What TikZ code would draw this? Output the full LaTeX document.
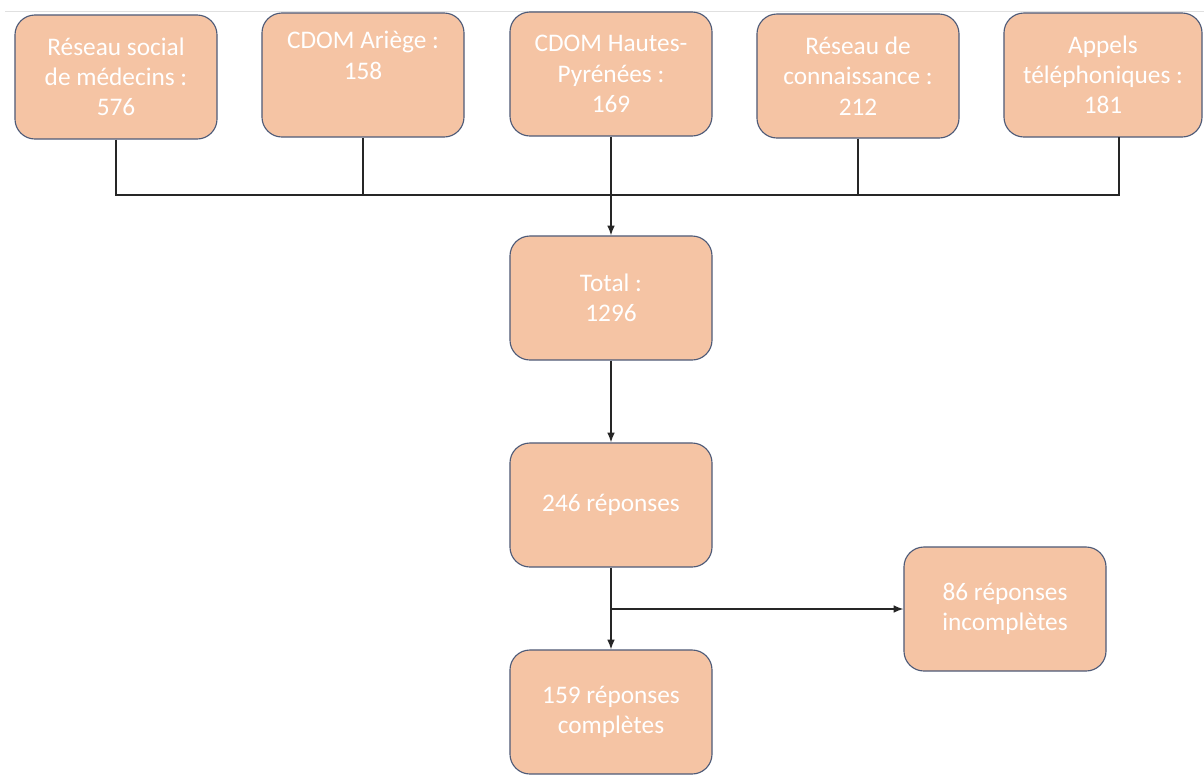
\documentclass[tikz,border=0pt]{standalone}
\usepackage{fontspec}
\setmainfont{Carlito}
\usepackage{tikz}
\usetikzlibrary{arrows,arrows.meta,positioning,calc}

\definecolor{peche}{HTML}{F5C4A4}
\definecolor{bord}{HTML}{4E5B78}

\begin{document}
\begin{tikzpicture}[x=0.025cm,y=-0.025cm,
  boite/.style={shape=rectangle,rounded corners=0.5cm,draw=bord,line width=0.8pt,fill=peche,
    text=white,align=center,minimum width=5.05cm,minimum height=3.1cm,
    font=\fontsize{18}{21.5}\selectfont},
  lien/.style={line width=1pt,black!85},
  fleche/.style={lien,-{Latex[length=7pt,width=5.5pt]}}]
\useasboundingbox (0,0) rectangle (1204,779);
\draw[black!12,line width=0.6pt] (5,11) -- (1204,11);

% sources
\node[boite] (S1) at (116,77) {Réseau social\\de médecins :\\576};
\node[boite] (S2) at (363,75) {CDOM Ariège :\\158\\[0pt]\strut};
\node[boite] (S3) at (611,74) {CDOM Hautes-\\Pyrénées :\\169};
\node[boite] (S4) at (858,76) {Réseau de\\connaissance :\\212};
\node[boite,minimum width=4.95cm] (S5) at (1103,75) {Appels\\téléphoniques :\\181};

% suite
\node[boite] (T) at (611,298) {Total :\\1296};
\node[boite] (R) at (611,505) {246 réponses};
\node[boite] (I) at (1005,609) {86 réponses\\incomplètes};
\node[boite] (C) at (611,712) {159 réponses\\complètes};

\coordinate (A5) at (1119,137);
\coordinate (G) at (S1.south |- 0,195);
\coordinate (D) at (A5 |- 0,195);
\coordinate (B) at (R.south |- I.west);

\draw[lien] (S1.south) -- (G) -- (D) -- (A5);
\draw[lien] (S2.south) -- (S2.south |- G);
\draw[lien] (S4.south) -- (S4.south |- G);
\draw[fleche] (S3.south) -- (T.north);
\draw[fleche] (T.south) -- (R.north);
\draw[fleche] (R.south) -- (C.north);
\draw[fleche] (B) -- (I.west);
\end{tikzpicture}
\end{document}
